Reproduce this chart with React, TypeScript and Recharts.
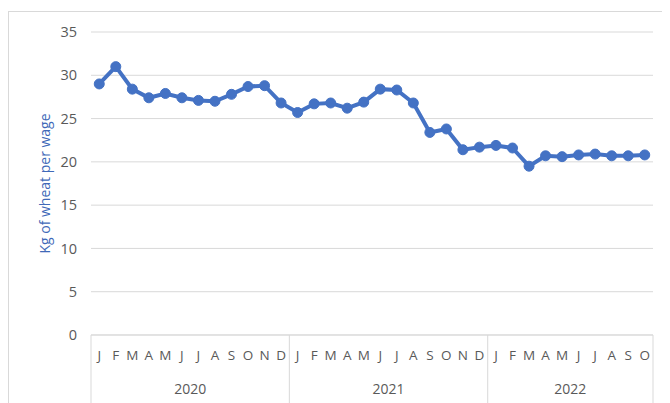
import React from 'react';
import { LineChart, Line, XAxis, YAxis, CartesianGrid } from 'recharts';

const months = ['J','F','M','A','M','J','J','A','S','O','N','D','J','F','M','A','M','J','J','A','S','O','N','D','J','F','M','A','M','J','J','A','S','O'];
const years = ['2020','2020','2020','2020','2020','2020','2020','2020','2020','2020','2020','2020','2021','2021','2021','2021','2021','2021','2021','2021','2021','2021','2021','2021','2022','2022','2022','2022','2022','2022','2022','2022','2022','2022'];
const kgPerWage = [29.0,31.0,28.4,27.4,27.9,27.4,27.1,27.0,27.8,28.7,28.8,26.8,25.7,26.7,26.8,26.2,26.9,28.4,28.3,26.8,23.4,23.8,21.4,21.7,21.9,21.6,19.5,20.7,20.6,20.8,20.9,20.7,20.7,20.8];
const yTicks = [0,5,10,15,20,25,30,35];

const data = months.map((m, i) => ({ key: i, m, year: years[i], v: kgPerWage[i] }));

const W = 670, H = 403;
const X_AXIS_H = 68;
const M = { top: 32, right: 17, bottom: 0, left: 30 };
const PLOT_L = M.left + 61;
const PLOT_R = W - M.right;
const PLOT_B = H - M.bottom - X_AXIS_H;
const BAND = (PLOT_R - PLOT_L) / data.length;

const MonthTick = (props: any) => {
  const { x, payload } = props;
  const i = payload.index;
  const els: any[] = [];
  els.push(
    <text key="m" x={x} y={PLOT_B + 20} textAnchor="middle" dominantBaseline="central" fill="#595959" fontSize={13.5} fontFamily="'Open Sans', sans-serif">{months[i]}</text>
  );
  const isStart = i === 0 || years[i] !== years[i - 1];
  if (isStart) {
    const count = years.filter(y => y === years[i]).length;
    const left = x - BAND / 2;
    els.push(<line key="d" x1={left} x2={left} y1={PLOT_B} y2={H + 5} stroke="#d9d9d9" strokeWidth={1} />);
    els.push(
      <text key="y" x={left + (count * BAND) / 2} y={PLOT_B + 53} textAnchor="middle" dominantBaseline="central" fill="#595959" fontSize={14} fontFamily="'Open Sans', sans-serif">{years[i]}</text>
    );
  }
  if (i === data.length - 1) {
    const right = x + BAND / 2;
    els.push(<line key="e" x1={right} x2={right} y1={PLOT_B} y2={H + 5} stroke="#d9d9d9" strokeWidth={1} />);
  }
  return <g>{els}</g>;
};

const YLabel = (props: any) => {
  const vb = props.viewBox || {};
  const cx = vb.x + 14;
  const cy = vb.y + vb.height / 2;
  return (
    <text x={cx} y={cy} transform={`rotate(-90 ${cx} ${cy})`} textAnchor="middle" dominantBaseline="central" fill="#3F69B8" fontSize={14} fontFamily="'Open Sans', sans-serif">Kg of wheat per wage</text>
  );
};

export default function App() {
  return (
    <div style={{ position: 'relative', marginLeft: -8, marginTop: -8, width: W, height: H, overflow: 'hidden', background: '#fff' }}>
      <div style={{ position: 'absolute', left: 8, top: 11, width: 700, height: 450, border: '1px solid #d9d9d9', boxSizing: 'border-box' }} />
      <div style={{ position: 'absolute', left: 0, top: 0 }}>
        <LineChart width={W} height={H} data={data} margin={M}>
          <CartesianGrid vertical={false} stroke="#d9d9d9" strokeWidth={1} />
          <XAxis dataKey="key" scale="band" interval={0} height={X_AXIS_H} axisLine={{ stroke: '#d9d9d9' }} tickLine={false} tick={<MonthTick />} />
          <YAxis domain={[0, 35]} ticks={yTicks} width={61} axisLine={false} tickLine={false} tickMargin={8}
            tick={{ fill: '#595959', fontSize: 14.5, fontFamily: "'Open Sans', sans-serif" }}
            label={{ content: <YLabel /> }} />
          <Line type="linear" dataKey="v" stroke="#4472C4" strokeWidth={4} isAnimationActive={false}
            dot={{ r: 5, fill: '#4472C4', stroke: '#4472C4', strokeWidth: 1 }} />
        </LineChart>
      </div>
    </div>
  );
}
